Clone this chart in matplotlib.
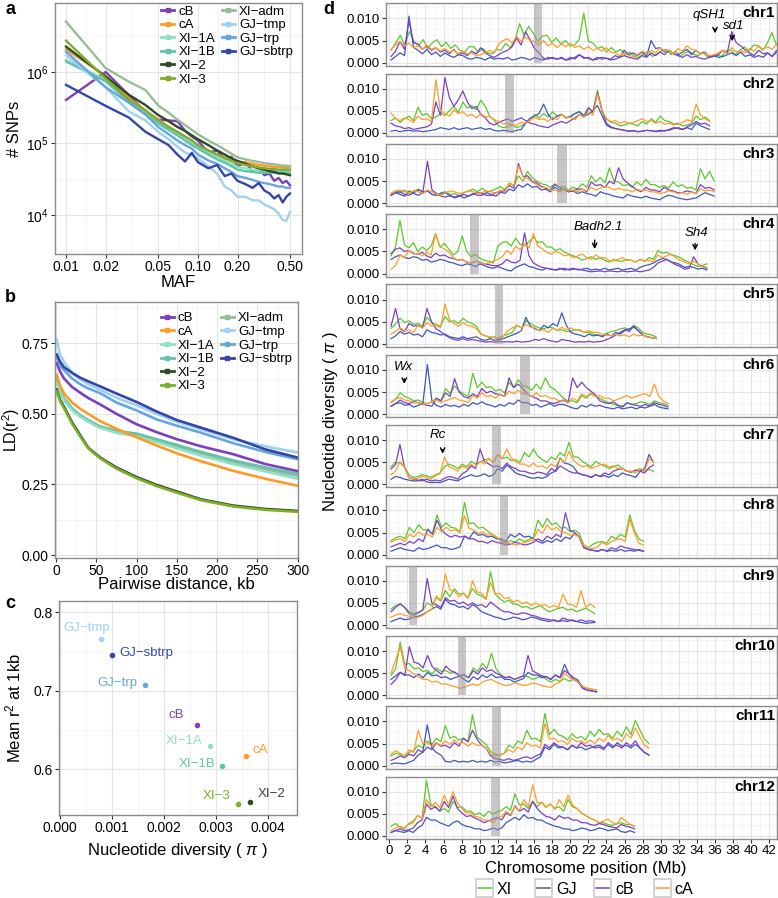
import numpy as np
import matplotlib.pyplot as plt
from matplotlib.lines import Line2D
from matplotlib.patches import Rectangle
from matplotlib.ticker import FixedLocator, NullFormatter

plt.rcParams['font.family'] = ['Liberation Sans', 'DejaVu Sans']
plt.rcParams['mathtext.fontset'] = 'custom'
plt.rcParams['mathtext.rm'] = 'Liberation Sans'
plt.rcParams['mathtext.it'] = 'Liberation Sans:italic'

W, H = 778, 898

# ---------------- data: populations (panels a, b, c)
pops = ['cB', 'cA', 'XI-1A', 'XI-1B', 'XI-2', 'XI-3', 'XI-adm', 'GJ-tmp', 'GJ-trp', 'GJ-sbtrp']
pop_colors = ['#7b3fc0', '#ff9a26', '#8fe0c6', '#63c2a8', '#2f4a2b', '#7cae2a',
              '#98bc97', '#9fd1f0', '#66a6de', '#3346a8']

# panel a: number of SNPs (thousands) by MAF
maf = [0.01, 0.02, 0.03, 0.04, 0.05, 0.06, 0.07, 0.08, 0.09, 0.10, 0.12, 0.14, 0.16,
       0.18, 0.20, 0.23, 0.26, 0.29, 0.32, 0.35, 0.38, 0.41, 0.44, 0.47, 0.50]
snp_cB = [406, 1000, 470, 280, 215, 210, 205, 150, 125, 110, 75, 80, 60, 65, 48, 55, 40, 45, 36, 38, 30, 33, 28, 30, 26]
snp_cA = [2070, 880, 430, 290, 215, 170, 145, 125, 110, 90, 80, 70, 64, 60, 56, 54, 52, 50, 49, 48, 47, 47, 46, 46, 46]
snp_xi1a = [1470, 770, 390, 265, 195, 160, 135, 115, 100, 90, 75, 65, 58, 52, 47, 45, 43, 42, 42, 41, 41, 41, 41, 41, 41]
snp_xi1b = [1400, 740, 380, 255, 190, 155, 130, 110, 95, 85, 70, 60, 54, 48, 43, 41, 40, 39, 39, 39, 39, 39, 39, 39, 39]
snp_xi2 = [2260, 860, 480, 345, 250, 205, 170, 150, 130, 115, 95, 80, 70, 62, 57, 52, 48, 45, 43, 41, 40, 38, 38, 37, 36]
snp_xi3 = [2740, 810, 410, 290, 210, 170, 145, 125, 110, 95, 80, 70, 63, 57, 53, 50, 48, 46, 45, 44, 44, 43, 43, 43, 43]
snp_xiadm = [5060, 1130, 730, 560, 340, 270, 215, 180, 155, 135, 110, 95, 82, 72, 64, 60, 57, 55, 53, 52, 51, 50, 49, 49, 48]
snp_gjtmp = [1700, 610, 280, 210, 145, 115, 90, 75, 68, 62, 48, 38, 25, 22, 18, 18, 16, 16, 14, 13, 12, 10.5, 8.5, 8.3, 11]
snp_gjtrp = [1920, 610, 370, 255, 170, 135, 110, 95, 85, 70, 58, 52, 45, 40, 35, 33, 31, 29, 28, 27, 26, 25, 25, 24, 24]
snp_gjsbtrp = [660, 335, 230, 146, 115, 95, 70, 56, 74, 55, 45, 50, 35, 38, 30, 27, 24, 28, 22, 20, 17, 19, 15, 18, 20]

# panel b: LD decay
dist_kb = [1, 5, 10, 20, 30, 40, 55, 75, 100, 125, 150, 180, 220, 260, 300]
ld_cB = [0.680, 0.650, 0.625, 0.595, 0.575, 0.556, 0.533, 0.500, 0.463, 0.435, 0.410, 0.385, 0.357, 0.322, 0.297]
ld_cA = [0.638, 0.600, 0.572, 0.540, 0.518, 0.500, 0.474, 0.447, 0.417, 0.388, 0.360, 0.332, 0.298, 0.270, 0.245]
ld_xi1a = [0.610, 0.575, 0.547, 0.513, 0.490, 0.472, 0.450, 0.433, 0.420, 0.400, 0.378, 0.352, 0.322, 0.296, 0.270]
ld_xi1b = [0.620, 0.585, 0.555, 0.520, 0.495, 0.478, 0.455, 0.440, 0.430, 0.410, 0.390, 0.365, 0.335, 0.310, 0.288]
ld_xi2 = [0.586, 0.550, 0.525, 0.470, 0.425, 0.380, 0.345, 0.310, 0.276, 0.248, 0.225, 0.197, 0.175, 0.163, 0.156]
ld_xi3 = [0.580, 0.545, 0.520, 0.465, 0.420, 0.378, 0.342, 0.306, 0.272, 0.244, 0.221, 0.194, 0.172, 0.160, 0.153]
ld_xiadm = [0.615, 0.580, 0.550, 0.517, 0.492, 0.475, 0.453, 0.437, 0.425, 0.405, 0.384, 0.358, 0.328, 0.303, 0.280]
ld_gjtmp = [0.762, 0.710, 0.685, 0.645, 0.622, 0.605, 0.585, 0.557, 0.530, 0.500, 0.472, 0.445, 0.410, 0.385, 0.363]
ld_gjtrp = [0.703, 0.670, 0.655, 0.625, 0.605, 0.590, 0.573, 0.540, 0.512, 0.480, 0.458, 0.433, 0.396, 0.365, 0.339]
ld_gjsbtrp = [0.710, 0.685, 0.665, 0.645, 0.628, 0.615, 0.597, 0.572, 0.542, 0.508, 0.478, 0.451, 0.415, 0.374, 0.345]

# panel c: nucleotide diversity vs mean r2 at 1 kb
c_pops = ['GJ-tmp', 'GJ-sbtrp', 'GJ-trp', 'cB', 'XI-1A', 'cA', 'XI-1B', 'XI-3', 'XI-2']
c_pi = [0.00078, 0.00100, 0.00163, 0.00263, 0.00288, 0.00357, 0.00312, 0.00342, 0.00366]
c_r2 = [0.7656, 0.746, 0.7078, 0.6568, 0.6293, 0.6173, 0.605, 0.5558, 0.5583]

# panel d: nucleotide diversity along chromosomes (units of 1e-4, ~0.5 Mb steps)
chr_len = [43.3, 35.4, 35.9, 35.1, 29.5, 30.8, 29.2, 28.1, 22.7, 22.9, 28.7, 27.1]
cen_start = [15.95, 12.8, 18.5, 8.95, 11.7, 14.5, 11.4, 12.2, 2.2, 7.6, 11.3, 11.2]
cen_end = [16.9, 13.8, 19.6, 9.95, 12.6, 15.5, 12.4, 13.1, 3.1, 8.5, 12.3, 12.2]

pi_xi = [
    [28,45,62,40,70,48,38,52,32,45,52,36,46,32,40,28,24,36,36,24,32,22,20,30,28,44,34,50,88,62,82,66,48,60,62,46,56,42,50,38,40,52,112,48,44,32,36,24,34,24,30,18,24,14,12,20,24,14,20,28,30,18,26,14,22,26,18,16,24,12,16,18,14,26,30,18,28,36,26,40,38,28,44,68,40,52],
    [28,34,24,32,38,28,58,40,44,32,36,44,40,50,60,46,70,56,62,52,74,60,38,28,16,12,14,18,12,16,22,28,42,34,44,36,48,38,42,34,36,44,48,40,58,46,96,50,32,24,22,16,18,22,20,16,26,20,32,24,38,28,26,20,22,16,18,22,38,30,36,28],
    [22,28,24,30,22,28,32,26,28,20,18,24,26,20,22,16,24,28,32,26,34,26,28,32,38,30,46,40,62,50,72,58,50,44,42,36,44,36,38,30,36,32,44,36,62,48,58,46,80,50,48,40,42,36,48,40,54,42,42,36,40,34,48,38,42,34,36,30,78,55,72,50],
    [40,60,120,65,58,70,50,60,52,62,90,60,68,55,42,50,85,50,38,44,34,30,28,24,62,70,72,62,80,66,62,72,82,70,72,60,60,52,56,48,44,40,36,30,34,38,32,36,30,26,32,28,28,32,30,26,32,28,36,32,52,46,48,42,40,36,30,26,20,16,18,22],
    [35,45,58,48,52,44,46,40,60,48,44,40,62,50,52,46,58,50,46,40,22,18,14,16,12,18,22,26,42,36,52,46,40,36,34,38,36,30,32,28,28,32,30,26,26,22,20,18,24,28,30,34,36,32,42,36,26,22,20,16],
    [26,34,48,40,36,30,32,26,24,28,36,30,58,46,64,52,46,40,92,60,72,60,62,52,56,48,72,60,78,64,62,54,68,56,82,62,56,46,36,30,30,26,42,36,46,40,36,30,26,22,20,18,26,22,24,28,26,22,30,26,24,20],
    [40,50,48,40,22,16,18,22,20,16,22,26,40,46,42,36,46,40,52,46,50,56,58,50,68,58,62,54,56,50,72,62,80,64,56,50,62,56,72,64,95,62,62,52,46,40,52,46,42,36,40,44,36,30,28,32,36,30,34,30],
    [32,38,42,36,62,50,68,56,56,48,90,62,72,62,60,52,118,70,72,60,62,54,46,40,30,26,32,28,36,30,34,40,78,62,82,68,72,60,62,52,56,48,22,16,24,28,30,26,42,36,46,40,90,55,36,30],
    [36,44,48,40,30,26,28,34,50,44,62,54,78,64,82,70,72,62,82,70,66,58,120,70,60,52,56,48,46,40,42,36,40,44,36,30,34,38,40,34,36,30,34,38,32,26],
    [45,60,120,70,72,60,62,54,56,48,62,54,56,50,52,44,46,40,62,54,72,60,95,60,46,40,42,36,40,44,42,36,40,44,36,30,36,32,38,32,36,30,20,16,14,12],
    [22,28,26,22,30,34,46,40,56,48,62,54,90,62,66,58,62,54,115,65,56,48,32,26,24,28,46,40,56,50,80,60,62,54,118,70,82,70,66,58,72,62,66,58,78,66,82,70,72,62,78,66,88,70,102,80,60,50],
    [22,28,20,16,28,34,46,40,125,70,66,56,62,54,78,64,66,56,56,48,52,44,56,50,54,58,66,58,95,70,72,62,78,66,76,66,72,62,66,56,82,66,62,52,46,40,36,30,30,26,24,28,30,26,26,22],
]
pi_gj = [
    [6,14,22,16,105,35,28,20,30,18,24,14,22,16,12,18,16,10,8,12,10,6,12,8,10,8,12,6,8,12,10,6,12,8,6,12,10,8,12,6,8,12,18,10,12,6,8,12,10,8,16,12,28,18,22,16,24,14,50,32,34,24,28,20,18,24,30,18,28,20,24,14,16,12,14,18,22,16,24,14,18,12,16,12,22,14,24,18],
    [4,6,3,5,6,4,5,3,4,6,8,12,10,8,12,8,10,12,8,10,12,8,10,6,4,6,5,3,6,8,22,34,38,44,65,42,30,38,42,34,38,44,48,38,42,50,62,40,18,12,10,8,6,4,5,3,4,6,5,4,6,4,8,12,10,8,12,8,22,16,12,8],
    [18,24,20,16,28,22,18,24,28,20,18,22,24,16,14,18,12,16,20,24,22,18,18,24,26,22,32,28,42,36,44,36,38,30,32,26,36,30,32,26,28,22,26,22,20,16,26,22,20,16,14,12,20,16,14,12,16,12,10,8,14,18,16,12,10,8,10,12,18,24,20,16],
    [32,38,42,36,34,38,36,30,32,26,28,32,30,26,24,20,18,22,20,16,22,18,14,12,16,12,8,6,14,18,22,16,14,10,8,12,10,8,12,8,10,12,8,10,12,8,10,8,12,8,10,12,8,10,12,8,14,18,20,24,30,34,32,26,24,20,14,16,14,10,12,8],
    [12,18,28,22,26,20,22,16,32,26,24,20,22,16,14,12,16,12,14,16,10,8,12,8,10,12,16,20,24,30,60,40,34,30,42,36,46,40,70,42,26,22,20,16,22,18,20,16,22,18,26,22,30,34,38,30,20,16,14,12],
    [18,24,26,20,22,16,20,24,112,30,20,16,22,18,20,16,22,18,26,22,28,22,20,16,22,18,26,22,32,26,26,20,22,16,20,24,18,22,22,18,14,12,20,16,22,18,20,16,14,12,16,12,14,16,12,16,14,18,22,16,14,12],
    [12,18,16,12,10,8,8,12,6,4,5,4,8,12,10,8,14,18,22,18,20,24,18,22,36,30,44,36,26,22,20,16,14,16,14,18,26,30,60,48,46,40,26,22,20,16,22,18,20,16,22,18,26,22,20,16,30,36,68,50],
    [8,12,16,12,10,8,16,12,14,18,22,16,16,12,14,18,42,36,52,44,46,40,42,36,36,30,46,40,48,40,42,36,30,26,32,28,36,30,40,36,48,40,16,12,10,8,12,8,10,8,12,8,10,8,12,8],
    [8,12,16,12,14,18,20,24,30,36,42,36,58,48,46,40,42,36,46,40,30,26,22,18,16,12,14,18,16,12,14,18,16,12,10,8,12,8,10,8,12,8,6,4,5,6],
    [36,44,52,46,46,40,48,40,52,44,46,40,42,36,40,44,36,30,42,36,46,40,48,40,42,36,36,30,34,38,52,46,46,40,42,36,46,40,70,48,36,30,16,12,10,8],
    [4,6,5,4,8,12,24,30,92,40,30,24,10,8,12,8,10,8,12,8,10,8,12,8,10,6,8,10,12,8,10,8,14,20,42,36,48,40,42,36,46,40,42,36,40,44,46,40,48,40,52,44,46,40,48,40,30,24],
    [8,12,10,8,12,8,18,24,42,36,36,30,26,22,30,34,26,22,20,16,16,12,14,18,14,18,30,36,42,36,48,40,42,36,36,30,26,22,20,16,16,12,14,18,16,12,14,18,16,12,14,16,10,8,12,8],
]
pi_cb = [
    [14,26,48,30,95,45,42,30,38,28,34,24,28,20,30,18,22,16,26,20,34,22,16,12,18,24,28,36,56,40,70,52,32,22,10,8,12,8,10,6,12,8,18,12,10,6,12,8,10,6,8,12,16,12,10,8,16,12,22,16,24,18,28,20,16,12,18,12,14,10,8,12,14,18,28,22,70,45,38,28,22,16,28,20,22,14,28,18],
    [22,16,14,10,12,8,10,12,14,20,70,40,125,80,60,75,95,70,55,60,42,34,22,18,24,28,32,26,30,34,28,22,20,16,14,12,18,22,26,22,28,34,42,36,56,48,92,52,22,14,10,8,6,4,5,3,4,6,5,3,4,6,6,10,12,8,14,18,26,20,22,16],
    [18,24,26,20,18,24,30,26,95,30,22,16,14,18,12,16,20,16,22,18,18,24,20,16,24,30,40,34,90,60,62,50,46,38,34,30,42,36,30,26,28,32,32,26,48,40,42,36,50,44,80,55,46,38,30,26,36,30,30,26,36,30,28,24,24,28,26,22,42,34,36,30],
    [45,55,58,50,52,46,44,48,40,36,46,40,42,36,34,30,32,26,24,28,26,22,20,18,18,22,32,26,24,30,92,40,24,18,14,12,10,8,10,12,8,10,10,8,6,4,5,6,4,6,5,4,6,4,5,6,4,6,8,14,24,28,32,26,20,16,10,12,38,22,16,12],
    [40,80,34,28,46,40,42,36,80,50,34,28,20,14,10,8,12,8,10,8,6,4,5,4,6,4,5,4,6,4,5,6,10,8,12,8,6,4,10,8,6,4,5,4,6,4,5,6,10,14,20,26,32,28,40,30,20,16,14,12],
    [18,24,32,26,24,28,26,22,20,18,36,30,48,40,80,50,40,36,46,40,58,48,52,46,44,40,82,60,68,58,46,40,36,30,30,26,24,28,32,26,82,60,72,60,52,44,30,26,24,28,20,16,26,22,20,18,22,18,26,22,20,16],
    [35,45,90,40,16,12,10,8,12,8,10,8,14,18,16,12,24,30,42,36,80,52,46,40,42,36,48,40,36,30,30,26,24,28,26,22,36,30,42,36,30,26,26,22,20,16,22,18,26,22,30,34,36,30,28,32,30,26,38,44],
    [18,22,26,22,30,26,36,30,58,46,78,56,46,40,44,40,42,36,36,30,30,26,32,28,26,22,24,28,26,22,24,28,36,30,42,36,46,40,95,55,50,40,16,12,10,8,12,8,16,12,20,16,14,12,10,8],
    [30,40,48,40,26,22,28,34,105,50,46,40,62,54,56,48,52,44,50,44,46,40,52,44,36,30,30,26,24,28,26,22,20,16,14,12,10,8,16,12,10,8,12,8,10,8],
    [25,35,52,45,110,75,72,62,90,65,56,48,66,56,52,44,46,40,56,48,62,54,58,50,46,40,42,36,40,44,90,55,50,44,42,36,46,40,56,48,40,34,16,12,10,8],
    [12,16,22,18,26,22,36,30,42,36,52,44,46,40,52,44,62,54,80,60,46,40,22,16,14,12,16,12,14,18,20,16,22,26,48,40,52,44,42,36,46,40,52,44,46,40,42,36,52,44,46,40,52,44,56,40,30,24],
    [8,12,16,12,14,18,30,36,72,60,66,56,78,64,90,62,52,44,46,40,36,30,34,38,42,36,52,46,68,56,62,54,78,62,52,44,42,36,46,40,42,36,36,30,30,26,24,28,26,22,20,18,26,22,20,16],
]
pi_ca = [
    [30,40,48,38,44,34,38,30,40,30,34,26,32,24,28,20,26,20,22,16,18,22,28,22,42,50,54,44,60,48,58,50,48,40,50,38,44,34,42,36,44,34,38,30,36,28,32,26,34,24,22,16,22,16,14,18,26,20,28,22,34,26,28,20,32,26,38,30,28,20,22,16,18,22,28,20,34,24,28,22,32,26,38,30,36,30,42,34],
    [45,32,28,34,30,24,38,30,32,26,120,50,44,38,52,44,48,38,42,34,44,36,38,30,26,20,22,18,18,24,22,28,36,30,32,26,36,30,42,34,36,30,42,36,48,40,88,50,32,26,28,22,26,22,24,28,32,26,28,22,26,20,22,18,20,24,30,26,65,40,32,26],
    [22,28,30,26,24,28,26,22,30,26,20,18,24,28,26,22,24,28,26,22,24,28,26,22,30,26,44,40,85,60,56,48,42,36,36,30,30,26,32,28,30,26,32,28,36,30,34,38,36,30,34,30,30,26,32,28,30,26,26,22,24,28,26,22,24,20,26,22,32,28,30,26],
    [10,18,42,36,52,44,46,40,48,42,90,60,56,48,36,30,32,26,24,28,26,22,24,28,32,38,52,44,62,54,68,58,90,62,56,48,44,50,46,40,42,36,40,44,36,32,42,36,36,30,28,32,36,30,30,26,32,28,30,26,42,36,40,44,36,30,26,22,28,22,16,14],
    [22,28,36,30,32,26,42,36,48,40,42,36,90,55,46,40,48,42,40,34,22,18,16,14,14,18,30,36,42,36,44,38,36,30,32,26,36,30,38,32,36,30,32,26,30,26,26,22,20,18,22,18,20,16,22,18,20,16,14,12],
    [28,34,38,32,30,26,26,22,24,28,32,26,30,34,38,32,30,26,42,36,48,40,42,36,46,40,52,46,54,46,46,40,48,40,42,36,36,30,30,26,36,30,46,40,48,40,42,36,36,30,34,38,42,36,40,44,46,40,68,40,30,24],
    [22,30,52,40,16,12,14,18,16,12,20,24,62,40,36,30,42,36,46,40,52,46,58,50,68,58,80,60,52,46,46,40,48,40,42,36,46,40,58,50,75,55,46,40,42,36,40,44,46,40,42,36,36,30,30,26,36,30,58,50],
    [28,34,36,30,46,40,52,44,46,40,62,52,62,54,56,50,88,60,56,48,52,44,46,40,30,26,26,22,24,28,30,34,58,48,68,56,62,52,50,44,46,40,20,16,14,18,28,22,30,34,36,30,80,50,26,22],
    [18,22,26,22,20,16,18,22,30,36,66,56,115,80,76,64,72,60,100,75,72,60,96,70,72,60,62,52,56,48,52,44,50,44,46,40,44,40,70,48,46,40,78,40,48,40],
    [50,80,110,60,56,48,42,36,36,30,32,26,26,22,20,16,18,22,26,22,30,34,36,30,26,22,24,28,26,22,24,28,26,22,20,18,26,30,50,40,36,30,20,16,14,12],
    [26,34,28,22,36,30,80,50,52,44,52,46,56,48,58,50,52,44,52,46,46,40,26,22,24,28,36,30,42,36,52,44,46,40,95,60,62,54,56,48,62,54,56,50,58,50,62,54,68,58,62,54,72,62,85,65,46,40],
    [12,18,22,18,26,30,46,40,82,66,76,64,92,70,100,75,62,52,52,44,42,36,36,30,40,44,56,48,66,58,82,66,115,75,76,64,72,60,82,66,92,70,62,52,46,40,36,30,34,38,30,26,42,34,26,22],
]
d_groups = ['XI', 'GJ', 'cB', 'cA']
d_colors = ['#5cc72a', '#3d58bd', '#7b3fc4', '#ff9c2a']

genes = ['qSH1', 'sd1', 'Badh2.1', 'Sh4', 'Wx', 'Rc']
gene_chr = [1, 1, 4, 4, 6, 7]
gene_pos = [36.0, 37.9, 22.7, 33.8, 1.66, 5.9]

# ---------------- layout helpers
fig = plt.figure(figsize=(W / 100, H / 100), dpi=100)


def px_axes(l, t, r, b):
    return fig.add_axes([l / W, 1 - b / H, (r - l) / W, (b - t) / H])


def style(ax, lab=10):
    for s in ax.spines.values():
        s.set_color('#8c8c8c')
        s.set_linewidth(1.0)
    ax.tick_params(which='major', length=3, width=0.8, color='#333333',
                   labelsize=lab, pad=1.5, labelcolor='black')
    ax.tick_params(which='minor', length=0)
    ax.grid(which='major', color='#e4e4e4', lw=0.8)
    ax.grid(which='minor', color='#f2f2f2', lw=0.6)
    ax.set_axisbelow(True)


def lab(s):
    return s.replace('-', '\u2212')


# ---------------- panel a
snp_series = [snp_cB, snp_cA, snp_xi1a, snp_xi1b, snp_xi2, snp_xi3,
              snp_xiadm, snp_gjtmp, snp_gjtrp, snp_gjsbtrp]
ax = px_axes(55, 3, 302, 254)
style(ax)
for vals, col in zip(snp_series, pop_colors):
    ax.plot(maf, np.array(vals) * 1e3, color=col, lw=1.7)
ax.set_xscale('log')
ax.set_yscale('log')
ax.set_xlim(0.00825, 0.617)
ax.set_ylim(2850, 9.2e6)
xt = [0.01, 0.02, 0.05, 0.10, 0.20, 0.50]
ax.xaxis.set_major_locator(FixedLocator(xt))
ax.set_xticklabels(['0.01', '0.02', '0.05', '0.10', '0.20', '0.50'])
ax.xaxis.set_minor_locator(FixedLocator([np.sqrt(a * b) for a, b in zip(xt[:-1], xt[1:])]))
ax.xaxis.set_minor_formatter(NullFormatter())
ax.yaxis.set_major_locator(FixedLocator([1e4, 1e5, 1e6]))
ax.set_yticklabels(['$10^4$', '$10^5$', '$10^6$'])
ax.yaxis.set_minor_locator(FixedLocator([10 ** 3.5, 10 ** 4.5, 10 ** 5.5, 10 ** 6.5]))
ax.yaxis.set_minor_formatter(NullFormatter())
ax.set_xlabel('MAF', fontsize=12)
ax.xaxis.set_label_coords(0.5, -0.085)
ax.set_ylabel('# SNPs', fontsize=12)
ax.yaxis.set_label_coords(-0.135, 0.5)


def two_col_legend(ax, lw, x1, x2, ytop):
    hs = [Line2D([], [], color=c, lw=lw, marker='s', ms=2.5) for c in pop_colors]
    kw = dict(frameon=False, fontsize=9.5, handlelength=1.0, handletextpad=0.3,
              labelspacing=0.1, borderpad=0, borderaxespad=0, loc='upper left')
    l1 = ax.legend(hs[:6], [lab(p) for p in pops[:6]], bbox_to_anchor=(x1, ytop), **kw)
    ax.add_artist(l1)
    ax.legend(hs[6:], [lab(p) for p in pops[6:]], bbox_to_anchor=(x2, ytop), **kw)


two_col_legend(ax, 2.0, 0.43, 0.675, 0.99)
fig.text(10 / W, 1 - 9 / H, 'a', fontsize=13, fontweight='bold', va='center', ha='center')

# ---------------- panel b
ld_series = [ld_cB, ld_cA, ld_xi1a, ld_xi1b, ld_xi2, ld_xi3,
             ld_xiadm, ld_gjtmp, ld_gjtrp, ld_gjsbtrp]
ax = px_axes(55, 302, 298, 558)
style(ax)
order = [6, 3, 2, 1, 0, 7, 8, 9, 4, 5]
for k in order:
    ax.plot(dist_kb, ld_series[k], color=pop_colors[k], lw=1.9)
ax.set_xlim(-1.2, 300.4)
ax.set_ylim(-0.0106, 0.896)
ax.set_xticks([0, 50, 100, 150, 200, 250, 300])
ax.xaxis.set_minor_locator(FixedLocator([25, 75, 125, 175, 225, 275]))
ax.set_yticks([0, 0.25, 0.5, 0.75])
ax.set_yticklabels(['0.00', '0.25', '0.50', '0.75'])
ax.yaxis.set_minor_locator(FixedLocator([0.125, 0.375, 0.625, 0.875]))
ax.set_xlabel('Pairwise distance, kb', fontsize=12)
ax.xaxis.set_label_coords(0.5, -0.075)
ax.set_ylabel('LD(r$^2$)', fontsize=11.5)
ax.yaxis.set_label_coords(-0.136, 0.5)
two_col_legend(ax, 2.0, 0.435, 0.682, 0.96)
fig.text(10 / W, 1 - 298 / H, 'b', fontsize=13, fontweight='bold', va='center', ha='center')

# ---------------- panel c
c_offsets = {'GJ-tmp': (-10, 8, 'center'), 'GJ-sbtrp': (5, 1, 'left'),
             'GJ-trp': (-5, 1, 'right'), 'cB': (-9, 7, 'right'),
             'XI-1A': (-5, 4, 'right'), 'cA': (5, 4, 'left'),
             'XI-1B': (-5, 1, 'right'), 'XI-3': (-5, 6, 'right'),
             'XI-2': (5, 6, 'left')}
ax = px_axes(59, 601, 297, 815)
style(ax)
for p, x, y in zip(c_pops, c_pi, c_r2):
    col = pop_colors[pops.index(p)]
    ax.scatter([x], [y], s=16, color=col, zorder=3, linewidths=0)
    dx, dy, ha = c_offsets[p]
    ax.annotate(lab(p), (x, y), xytext=(dx, dy), textcoords='offset points',
                ha=ha, va='center', fontsize=9.5, color=col)
ax.set_xlim(-0.00002, 0.004558)
ax.set_ylim(0.542, 0.8144)
ax.set_xticks([0, 0.001, 0.002, 0.003, 0.004])
ax.set_xticklabels(['0.000', '0.001', '0.002', '0.003', '0.004'])
ax.xaxis.set_minor_locator(FixedLocator([0.0005, 0.0015, 0.0025, 0.0035, 0.0045]))
ax.set_yticks([0.6, 0.7, 0.8])
ax.yaxis.set_minor_locator(FixedLocator([0.55, 0.65, 0.75]))
ax.set_xlabel('Nucleotide diversity ( $\\pi$ )', fontsize=12)
ax.set_ylabel('Mean r$^2$ at 1kb', fontsize=12)
ax.yaxis.set_label_coords(-0.15, 0.5)
fig.text(10 / W, 1 - 603 / H, 'c', fontsize=13, fontweight='bold', va='center', ha='center')

# ---------------- panel d
ylo, yhi = -0.00068, 0.0134
gene_text = {'qSH1': (35.3, 0.0108, 0.0083, 0.0060), 'sd1': (38.1, 0.0083, 0.0068, 0.0042),
             'Badh2.1': (23.1, 0.0104, 0.0082, 0.0049), 'Sh4': (33.9, 0.0091, 0.0074, 0.0046),
             'Wx': (1.58, 0.0107, 0.0086, 0.0062), 'Rc': (5.34, 0.0111, 0.0085, 0.0063)}
for i in range(12):
    top = 3.3 + 70.3 * i
    ax = px_axes(386, top, 777, top + 62.4)
    style(ax, lab=9.5)
    for series, col in zip([pi_xi, pi_gj, pi_cb, pi_ca], d_colors):
        v = np.array(series[i]) * 1e-4
        x = np.linspace(0.2, chr_len[i], len(v))
        ax.plot(x, v, color=col, lw=0.9)
    ax.axvspan(cen_start[i], cen_end[i], ymin=(0 - ylo) / (yhi - ylo), ymax=1,
               color='#9c9898', alpha=0.55, lw=0, zorder=5)
    ax.set_xlim(-0.36, 42.85)
    ax.set_ylim(ylo, yhi)
    ax.set_xticks(range(0, 43, 2))
    ax.xaxis.set_minor_locator(FixedLocator(range(1, 43, 2)))
    ax.set_yticks([0, 0.005, 0.010])
    ax.set_yticklabels(['0.000', '0.005', '0.010'])
    ax.yaxis.set_minor_locator(FixedLocator([0.0025, 0.0075, 0.0125]))
    if i < 11:
        ax.tick_params(axis='x', which='major', length=0, labelbottom=False)
    ax.text(0.995, 0.84, 'chr%d' % (i + 1), transform=ax.transAxes, ha='right',
            va='center', fontsize=11, fontweight='bold')
    for g, c, pos in zip(genes, gene_chr, gene_pos):
        if c != i + 1:
            continue
        tx, ty, a0, a1 = gene_text[g]
        ax.text(tx, ty, g, fontsize=9.5, style='italic', ha='center', va='center', zorder=6)
        ax.annotate('', xy=(pos, a1), xytext=(pos, a0), zorder=6,
                    arrowprops=dict(arrowstyle='->', lw=1.0, color='black', mutation_scale=8))

fig.text(331 / W, 1 - 421 / H, 'Nucleotide diversity ( $\\pi$ )', rotation=90,
         fontsize=12, ha='center', va='center')
fig.text(586 / W, 1 - 868 / H, 'Chromosome position (Mb)', fontsize=12, ha='center', va='center')
fig.text(329 / W, 1 - 9 / H, 'd', fontsize=13, fontweight='bold', va='center', ha='center')

# bottom legend for panel d
for k, (g, col) in enumerate(zip(d_groups, d_colors)):
    x0 = 476 + 59.2 * k
    fig.patches.append(Rectangle((x0 / W, 1 - 897 / H), 17 / W, 18 / H, transform=fig.transFigure,
                                 facecolor='white', edgecolor='#cfcfcf', lw=1.3))
    fig.lines.append(Line2D([(x0 + 2) / W, (x0 + 15) / W], [1 - 888 / H, 1 - 888 / H],
                            transform=fig.transFigure, color=col, lw=1.1))
    fig.text((x0 + 21) / W, 1 - 889 / H, g, fontsize=11.5, ha='left', va='center')

fig.savefig('out.png', dpi=100)
